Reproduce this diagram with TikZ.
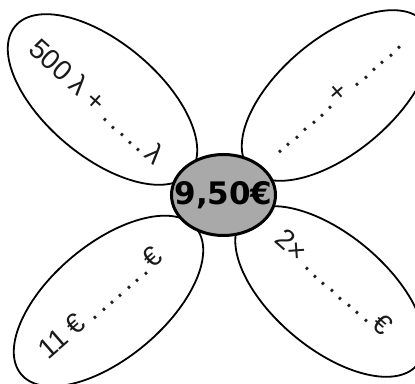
\documentclass[tikz,border=0pt]{standalone}
\usepackage{fontspec}
\setmainfont{Liberation Sans}
\newfontfamily\pricefont{DejaVu Sans}
\usetikzlibrary{shapes.geometric}
\definecolor{pgrey}{HTML}{A9A9A9}
\definecolor{pink}{HTML}{1A1A1A}
\newcommand{\gaps}[1]{\foreach \k in {1,...,#1}{.\kern3.4pt}}

\begin{document}
\begin{tikzpicture}[
  x=1pt,y=1pt,
  petal/.style={ellipse,draw=black,line width=1.8pt,fill=white,minimum width=228pt,minimum height=114pt,inner sep=0pt},
  ptxt/.style={font=\fontsize{28}{28}\selectfont,text=pink,inner sep=0pt},
  heart/.style={ellipse,draw=black,line width=3pt,fill=pgrey,minimum width=104pt,minimum height=81pt,inner sep=0pt}
]
\useasboundingbox (0,0) rectangle (415,383);
\clip (0,0) rectangle (415,383);
\node[petal,rotate=-40] (lam) at (102.5,283.5) {};
\node[petal,rotate=40] (sum) at (336.5,287.5) {};
\node[petal,rotate=40] (eur) at (108.5,82) {};
\node[petal,rotate=-40] (twice) at (330,91.5) {};
\node[ptxt,rotate=-42] (lamtxt) at (97,282) {500 λ + \gaps{5}λ};
\node[ptxt,rotate=41] (sumtxt) at (337,289) {\gaps{7}+ \gaps{6}};
\node[ptxt,rotate=41] (eurtxt) at (100,80) {11 € \gaps{7}€};
\node[ptxt,rotate=-41] (twicetxt) at (334,101) {2× \gaps{8}€};
\node[heart] (mid) at (223.5,188) {};
\node[font=\pricefont\bfseries\fontsize{31}{31}\selectfont,inner sep=0pt] (price) at (mid) {9,50€};
\end{tikzpicture}
\end{document}
